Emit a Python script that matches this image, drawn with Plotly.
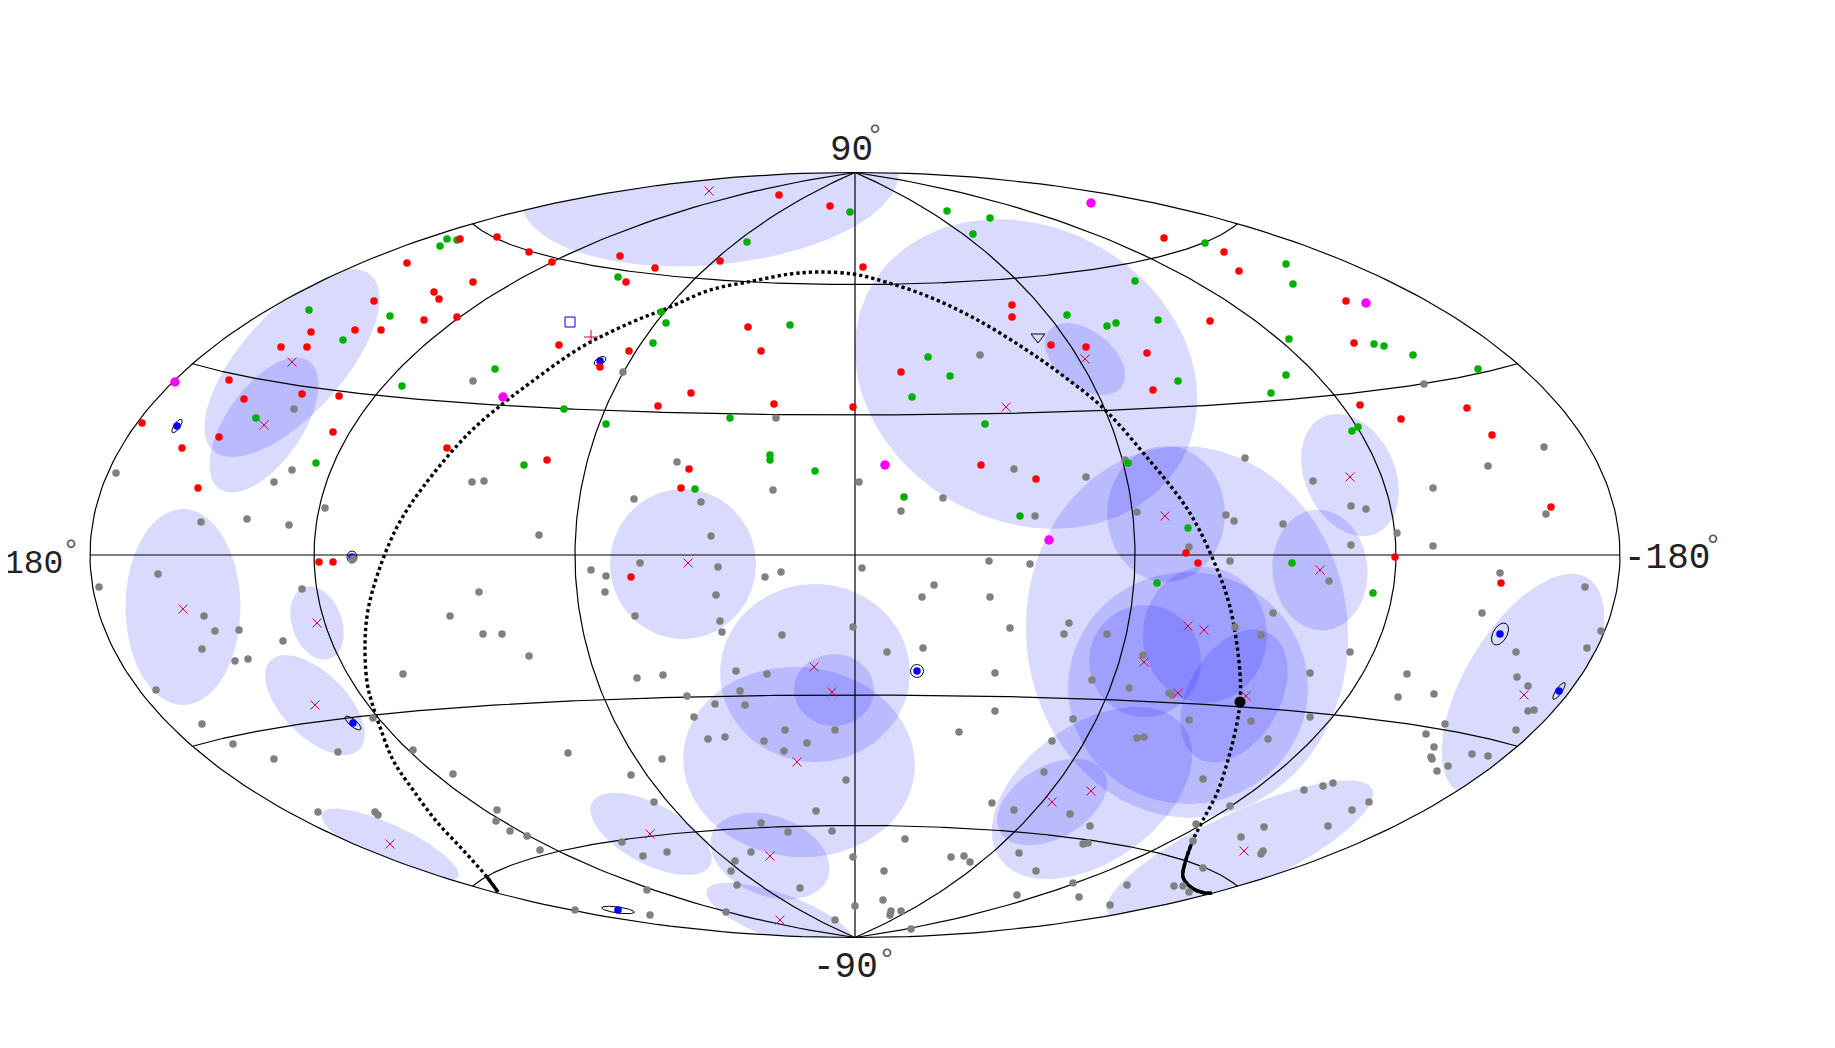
import numpy as np
import plotly.graph_objects as go

# everything below is in map-plane units: origin at lon=0, lat=0, half width 765, half height 382.5
HALF_W = 765.0
HALF_H = 382.5

RED = [(-395,316),(-448,292),(-421,263),(-416,256),(-481,254),(-431,235),(-398,238),(-500,225),(-474,225),
       (-544,223),(-548,208),(-574,208),(-626,175),(-611,156),(-553,161),(-516,159),(-358,318),(-326,303),
       (-303,293),(-235,299),(-200,287),(-229,273),(-382,273),(-135,294),(-76,360),(-25,349),(-296,210),
       (-226,204),(-255,188),(-107,228),(-94,204),(-164,162),(-197,149),(-81,151),(-2,148),(8,288),(157,250),
       (157,238),(196,210),(231,208),(355,234),(292,202),(298,165),(309,317),(369,303),(46,183),(384,284),
       (491,254),(499,212),(505,150),(612,147),(-713,132),(-673,107),(-636,118),(-657,67),(-522,123),(-408,107),
       (-536,-7),(-522,-7),(-308,95),(-166,86),(-174,67),(-224,-22),(126,90),(181,76),(331,2),(343,-8),(546,136),
       (637,120),(696,48),(540,-2),(646,-28)]

GREEN = [(-408,316),(-398,315),(-415,309),(-546,245),(-465,239),(-512,215),(-453,169),(-237,278),(-108,313),
         (-5,343),(-194,243),(-189,232),(-202,212),(-65,230),(-360,186),(-291,146),(92,344),(135,337),(118,321),
         (280,274),(350,312),(212,240),(261,232),(252,229),(303,235),(323,174),(73,198),(95,179),(57,158),
         (431,291),(438,271),(434,216),(519,211),(529,209),(558,200),(623,186),(431,180),(416,162),(-599,137),
         (-539,92),(-249,131),(-331,90),(-125,137),(-85,100),(-85,95),(-40,84),(-160,66),(130,131),(49,58),
         (165,39),(273,92),(333,27),(302,-28),(503,128),(497,124),(437,-8),(518,-38)]

MAGENTA = [(-680,173),(-352,158),(236,352),(511,252),(30,90),(194,15)]

GRAY = [(-561,146),(-232,183),(-382,174),(125,200),(569,171),(-739,82),(-563,85),(-581,73),(-530,47),(-608,36),
        (-654,33),(-566,30),(-502,-4),(-697,-19),(-756,-32),(-553,-34),(-651,-61),(-640,-76),(-616,-75),(-653,-94),
        (-572,-86),(-620,-106),(-607,-104),(-405,-61),(-452,-119),(-383,73),(-79,137),(-371,74),(-178,93),(-82,65),
        (-221,56),(-154,53),(-316,20),(-144,19),(-264,-15),(-249,-21),(-215,-8),(-137,-12),(-90,-22),(-74,-17),
        (-376,-37),(-250,-37),(-139,-40),(-220,-61),(-135,-66),(-133,-77),(-73,-80),(-2,-72),(-372,-79),(-353,-79),
        (-326,-101),(-218,-123),(-192,-120),(-119,-116),(-88,-119),(4,73),(159,86),(231,78),(270,95),(88,57),(46,44),
        (180,39),(282,43),(371,40),(379,34),(334,8),(375,-6),(7,-13),(134,-6),(175,-9),(79,-30),(67,-42),(135,-42),
        (214,-68),(209,-79),(155,-73),(252,-79),(380,-72),(32,-97),(68,-93),(140,-118),(288,-100),(237,-125),
        (390,97),(458,74),(496,49),(511,46),(428,31),(496,10),(542,22),(578,67),(578,9),(633,89),(689,108),(691,41),
        (645,-18),(474,-26),(627,-58),(418,-58),(406,-80),(730,-32),(746,-76),(732,-93),(661,-97),(495,-97),(455,-118),
        (552,-119),(662,-122),(-699,-135),(-653,-169),(-622,-189),(-581,-204),(-517,-197),(-482,-163),(-442,-195),
        (-402,-219),(-537,-257),(-480,-257),(-477,-260),(-358,-255),(-359,-266),(-168,-141),(-115,-136),(-140,-149),
        (-110,-150),(-161,-162),(-70,-175),(-147,-184),(-130,-182),(-91,-186),(-48,-188),(-20,-175),(-71,-196),
        (-287,-198),(-193,-204),(-224,-220),(-9,-225),(-201,-247),(-39,-256),(-94,-268),(-67,-277),(-23,-276),
        (-345,-276),(-328,-281),(-315,-295),(-233,-287),(-188,-297),(-212,-301),(-104,-297),(-120,-306),(-124,-316),
        (-118,-330),(-55,-333),(-2,-302),(-208,-335),(-280,-355),(-205,-360),(-129,-357),(-20,-365),(0,-351),
        (274,-133),(314,-138),(317,-140),(140,-156),(104,-177),(218,-164),(334,-165),(282,-183),(289,-182),(197,-186),
        (348,-224),(189,-217),(137,-248),(159,-255),(215,-259),(235,-271),(341,-269),(50,-284),(228,-289),(233,-288),
        (338,-286),(164,-298),(96,-302),(109,-301),(115,-307),(29,-316),(181,-316),(348,-313),(218,-328),(272,-330),
        (319,-331),(328,-331),(334,-337),(162,-340),(224,-342),(28,-345),(255,-350),(36,-356),(46,-356),(35,-360),
        (56,-374),(543,-142),(579,-139),(673,-131),(673,-156),(679,-155),(590,-169),(571,-179),(661,-175),(579,-192),
        (576,-202),(577,-204),(593,-211),(582,-216),(617,-199),(633,-201),(396,-166),(413,-184),(455,-162),(449,-235),
        (468,-231),(478,-228),(497,-255),(514,-247),(375,-251),(409,-272),(386,-282),(473,-271),(408,-296),(406,-299)]

CROSSES = [(-563,193),(-146,364),(230,196),(151,148),(-591,130),(-672,-54),(-538,-68),(-167,-8),(-41,-112),
           (310,39),(333,-71),(349,-75),(289,-107),(495,78),(465,-15),(-540,-150),(-465,-289),(-23,-137),(-58,-207),
           (-205,-279),(-85,-301),(-75,-365),(323,-138),(236,-236),(197,-247),(389,-296),(669,-140),(391,-141)]

# source position + error ellipse (cx, cy, a, b, tilt deg)
SOURCES = [(-255,194,6.5,3.5,30),(-678,129,8,3,55),(-503,-2,6,5,90),(62,-116,6.5,6.5,0),(645,-79,12,7,60),
           (-502,-168,10,3.5,-40),(-237,-355,16.5,3,-8),(704,-136,10,3,55)]

# smeared regions (cx, cy, a, b, tilt deg)
REGIONS = [(-145,370,190,80,5),(171,181,178,147,-29),(230,196,46,28,-38),(332,-77,186,161,95),(311,41,68,59,90),
           (495,80,64,45,-65),(465,-15,60.5,47.5,95),(333,-133,120,116,0),(290,-106,56,56,0),(350,-80,68,62,90),
           (379,-141,72,46,60),(197,-247,60,36,30),(237,-238,113,68.5,35.5),(385,-296,146,38,25),
           (668,-130,125,58,59),(-563,192,118,51,48),(-591,130,78,38,55),(-672,-52,98,57.5,90),(-538,-68,38,25,-70),
           (-540,-150,63,32,-45),(-465,-290,75,20,-25),(-172,-9,75,73,90),(-40,-118,95,89,0),(-21,-135,40,36,0),
           (-56,-207,116,95,-5),(-85,-301,62,40,-21),(-204,-279,67,30,-28),(-75,-362,78,23,-20)]

PLANE_X = [-357,-368,-392,-418,-442,-462,-475,-483,-488,-490,-487,-477,-458,-432,-386,-350,-325,-275,-225,-185,
           -145,-102,-65,-35,-2,20,67,117,167,207,247,290,333,357,375,385,385,382,373,362,348,338,330,328,337,350,357]
PLANE_Y = [-337,-322,-295,-267,-235,-205,-172,-148,-127,-88,-55,-18,28,68,122,153,172,207,232,248,
           265,274,281,283,281,276,261,238,208,180,148,100,45,-2,-52,-118,-147,-168,-205,-238,-265,-285,-308,-322,-333,-338,-338]
BIG_DOT = (385, -147)
OPEN_SQUARE = (-285, 233)
PLUS_MARK = (-264, 218)
OPEN_TRIANGLE = (183, 218)

MERIDIANS = [-180, -120, -60, 0, 60, 120, 180]
PARALLELS = [-60, -30, 0, 30, 60]
AXIS_LABELS = [("90", -4, 405), ("-90", -10, -412), ("-180", 812, -3)]
WEST_LABEL = ("180", -822, -9)
DEGREE_MARKS = [(20, 418), (32, -406), (-784, 3), (858, 8)]


def hammer(lon, lat):
    lam = np.radians(lon)
    phi = np.radians(lat)
    d = np.sqrt(1 + np.cos(phi) * np.cos(lam / 2))
    return HALF_W * np.cos(phi) * np.sin(lam / 2) / d, HALF_H * np.sin(phi) / d


def ellipse(cx, cy, a, b, tilt, clip=True):
    t = np.linspace(0, 2 * np.pi, 181)
    r = np.radians(tilt)
    x = cx + a * np.cos(t) * np.cos(r) - b * np.sin(t) * np.sin(r)
    y = cy + a * np.cos(t) * np.sin(r) + b * np.sin(t) * np.cos(r)
    if clip:
        # pull anything outside the map back on to its edge
        k = np.maximum(1, np.hypot(x / HALF_W, y / HALF_H))
        x, y = x / k, y / k
    return x, y


def scatter(pts, color, size, symbol="circle"):
    x, y = zip(*pts)
    return go.Scatter(x=x, y=y, mode="markers", cliponaxis=False, hoverinfo="skip",
                      marker=dict(color=color, size=size, symbol=symbol, line=dict(width=0)))


fig = go.Figure()

for cx, cy, a, b, tilt in REGIONS:
    x, y = ellipse(cx, cy, a, b, tilt)
    fig.add_trace(go.Scatter(x=x, y=y, mode="lines", fill="toself", fillcolor="rgba(0,0,255,0.145)",
                             line=dict(width=0, color="rgba(0,0,0,0)"), hoverinfo="skip"))

# graticule
for lon in MERIDIANS:
    x, y = hammer(np.full(181, lon), np.linspace(-90, 90, 181))
    fig.add_trace(go.Scatter(x=x, y=y, mode="lines", line=dict(color="black", width=1.2), hoverinfo="skip", cliponaxis=False))
for lat in PARALLELS:
    x, y = hammer(np.linspace(-180, 180, 361), np.full(361, lat))
    fig.add_trace(go.Scatter(x=x, y=y, mode="lines", line=dict(color="black", width=1.2), hoverinfo="skip", cliponaxis=False))

fig.add_trace(go.Scatter(x=PLANE_X, y=PLANE_Y, mode="lines", hoverinfo="skip",
                         line=dict(color="black", width=3.4, dash="3.3px,3px", shape="spline")))
# the dots run together at both southern ends
for part in (slice(0, 2), slice(-6, None)):
    fig.add_trace(go.Scatter(x=PLANE_X[part], y=PLANE_Y[part], mode="lines", hoverinfo="skip",
                             line=dict(color="black", width=3.4, shape="spline")))

for cx, cy, a, b, tilt in SOURCES:
    x, y = ellipse(cx, cy, a, b, tilt, clip=False)
    fig.add_trace(go.Scatter(x=x, y=y, mode="lines", line=dict(color="black", width=1), hoverinfo="skip"))
fig.add_trace(scatter([(s[0], s[1]) for s in SOURCES], "#0000ff", 7.5))
fig.add_trace(scatter(GRAY, "#808080", 7.5))
fig.add_trace(scatter(GREEN, "#00b000", 7.5))
fig.add_trace(scatter(RED, "#ff0000", 7.5))
fig.add_trace(scatter(MAGENTA, "#ff00ff", 9.5))

x, y = zip(*CROSSES)
fig.add_trace(go.Scatter(x=x, y=y, mode="markers", hoverinfo="skip",
                         marker=dict(symbol="x-thin", size=9, color="#d00048", line=dict(width=1, color="#d00048"))))
fig.add_trace(go.Scatter(x=[OPEN_SQUARE[0]], y=[OPEN_SQUARE[1]], mode="markers", hoverinfo="skip",
                         marker=dict(symbol="square-open", size=10, color="#0000d0", line=dict(width=1, color="#0000d0"))))
fig.add_trace(go.Scatter(x=[PLUS_MARK[0]], y=[PLUS_MARK[1]], mode="markers", hoverinfo="skip",
                         marker=dict(symbol="cross-thin", size=10, color="#e00020", line=dict(width=1, color="#e00020"))))
fig.add_trace(go.Scatter(x=[OPEN_TRIANGLE[0]], y=[OPEN_TRIANGLE[1]], mode="markers", hoverinfo="skip",
                         marker=dict(symbol="triangle-down-open", size=12, color="black", line=dict(width=1, color="black"))))
fig.add_trace(scatter([BIG_DOT], "black", 11))

for text, x, y in AXIS_LABELS:
    fig.add_annotation(x=x, y=y, text=text, showarrow=False, font=dict(family="Liberation Mono", size=36, color="#222222"))
# slightly smaller so that the page edge of the plot does not cut it
fig.add_annotation(x=WEST_LABEL[1], y=WEST_LABEL[2], text=WEST_LABEL[0], showarrow=False,
                   font=dict(family="Liberation Mono", size=33, color="#222222"))
for x, y in DEGREE_MARKS:
    fig.add_annotation(x=x, y=y, text="°", showarrow=False, font=dict(family="Liberation Mono", size=30, color="#555555"))

# the page body keeps its 8px margin, so the plot is 16px smaller than the window
fig.update_xaxes(visible=False, range=[-847, 972], fixedrange=True)
fig.update_yaxes(visible=False, range=[-485, 547], fixedrange=True)
fig.update_layout(width=1819, height=1032, autosize=False, showlegend=False, margin=dict(l=0, r=0, t=0, b=0),
                  plot_bgcolor="white", paper_bgcolor="white")

fig.write_html("out.html")
